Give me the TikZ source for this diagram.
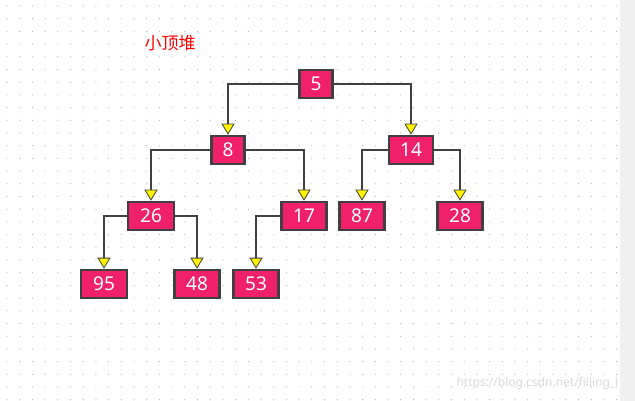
\documentclass[tikz,border=0pt]{standalone}
\usepackage{fontspec}
\setmainfont{Noto Sans}
\newfontfamily\cjk{Noto Sans CJK SC}
\usetikzlibrary{arrows.meta}
\definecolor{boxfill}{HTML}{F0206A}
\definecolor{edgec}{HTML}{404040}
\begin{document}
\begin{tikzpicture}[x=1pt,y=-1pt,
  hnode/.style={draw=edgec,line width=2.6pt,fill=boxfill,text=white,minimum height=28pt,inner sep=0pt,font=\fontsize{19}{19}\selectfont},
  link/.style={draw=edgec,line width=2.4pt,-{Triangle[open,fill=yellow,length=11pt,width=13pt,line width=0.8pt]}}]
\fill[white] (0,0) rectangle (635,401);
\fill[black!6] (620,0) rectangle (635,401);
\foreach \i in {0,...,48} \foreach \j in {0,...,31}
  \fill[black!30] (7+12.7*\i,6+12.7*\j) circle (0.6pt);
\node[text=red,font=\cjk\fontsize{17}{17}\selectfont] (title) at (170,43) {小顶堆};
\node[hnode,minimum width=33pt] (n5) at (316,84) {5};
\node[hnode,minimum width=33pt] (n8) at (228,150) {8};
\node[hnode,minimum width=44pt] (n14) at (411,150) {14};
\node[hnode,minimum width=46pt] (n26) at (151,216) {26};
\node[hnode,minimum width=45pt] (n17) at (304,216) {17};
\node[hnode,minimum width=45pt] (n87) at (362,216) {87};
\node[hnode,minimum width=45pt] (n28) at (460,216) {28};
\node[hnode,minimum width=46pt] (n95) at (104,284) {95};
\node[hnode,minimum width=45pt] (n48) at (197,284) {48};
\node[hnode,minimum width=45pt] (n53) at (256,284) {53};
\draw[link] (n5.west) -| (n8.north);
\draw[link] (n5.east) -| (n14.north);
\draw[link] (n8.west) -| (n26.north);
\draw[link] (n8.east) -| (n17.north);
\draw[link] (n14.west) -| (n87.north);
\draw[link] (n14.east) -| (n28.north);
\draw[link] (n26.west) -| (n95.north);
\draw[link] (n26.east) -| (n48.north);
\draw[link] (n17.west) -| (n53.north);
\node[text=black!15,font=\fontsize{12}{12}\selectfont,anchor=east] (wm) at (622,383) {https://blog.csdn.net/filling\_l};
\end{tikzpicture}
\end{document}
